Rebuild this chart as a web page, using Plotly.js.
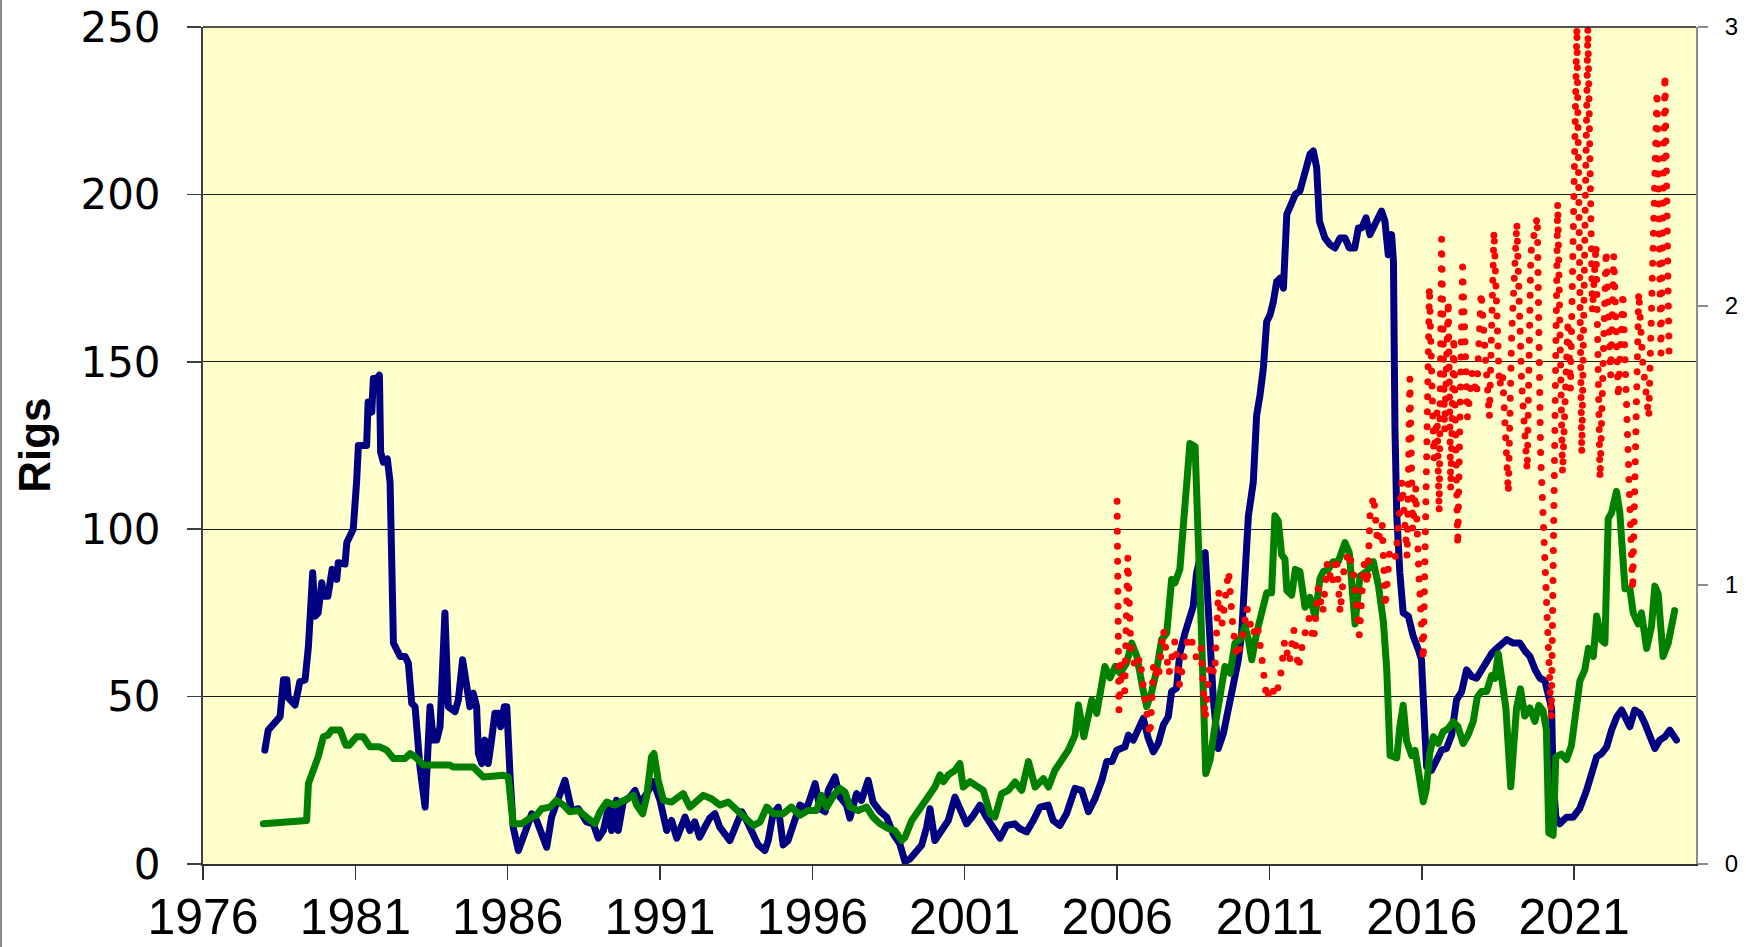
<!DOCTYPE html>
<html>
<head>
<meta charset="utf-8">
<script src="https://cdn.plot.ly/plotly-3.0.1.min.js"></script>
<style>
  html, body { margin: 0; padding: 0; background: #ffffff; }
  #wrap { position: relative; width: 1746px; height: 947px; }
  #edge { position: absolute; left: 0; top: 0; width: 2px; height: 947px; background: #8a8a8a; z-index: 5; }
  #chart { width: 1746px; height: 947px; }
  #chart .scatterlayer path.js-line { stroke-linecap: round; stroke-linejoin: round; }
</style>
</head>
<body>
<div id="wrap"><div id="edge"></div><div id="chart"></div></div>
<script>
// ---------- data ----------
var tickYears = [1976, 1981, 1986, 1991, 1996, 2001, 2006, 2011, 2016, 2021];
var tickLabels = ["1976", "1981", "1986", "1991", "1996", "2001", "2006", "2011", "2016", "2021"];

var navyDates = [1978.03,1978.14,1978.53,1978.64,1978.75,1978.8,1979.02,1979.18,1979.35,1979.46,1979.6,1979.68,1979.78,1979.9,1979.95,1980.1,1980.24,1980.39,1980.44,1980.66,1980.72,1980.93,1981.04,1981.1,1981.37,1981.42,1981.54,1981.59,1981.7,1981.79,1981.83,1981.92,1982.05,1982.14,1982.25,1982.47,1982.63,1982.74,1982.85,1982.96,1983.12,1983.29,1983.45,1983.56,1983.67,1983.78,1983.94,1984.05,1984.27,1984.38,1984.52,1984.65,1984.76,1984.87,1984.98,1985.04,1985.15,1985.25,1985.36,1985.47,1985.58,1985.69,1985.77,1985.89,1985.97,1986.08,1986.18,1986.35,1986.46,1986.57,1986.79,1986.95,1987.28,1987.44,1987.66,1987.88,1988.1,1988.32,1988.59,1988.81,1988.97,1989.14,1989.3,1989.41,1989.57,1989.63,1989.79,1990.01,1990.18,1990.34,1990.56,1990.78,1991.0,1991.22,1991.38,1991.55,1991.82,1991.98,1992.14,1992.3,1992.47,1992.63,1992.8,1992.96,1993.29,1993.45,1993.68,1993.84,1994.06,1994.22,1994.44,1994.55,1994.71,1994.88,1995.04,1995.2,1995.42,1995.59,1995.81,1996.09,1996.25,1996.42,1996.52,1996.74,1996.9,1997.12,1997.23,1997.45,1997.61,1997.83,1997.99,1998.22,1998.44,1998.65,1998.87,1999.04,1999.2,1999.42,1999.59,1999.75,1999.86,2000.02,2000.24,2000.46,2000.68,2000.84,2001.06,2001.28,2001.5,2001.71,2001.93,2002.16,2002.37,2002.64,2002.8,2003.03,2003.25,2003.47,2003.74,2003.9,2004.12,2004.34,2004.62,2004.84,2005.06,2005.28,2005.5,2005.66,2005.83,2005.99,2006.26,2006.37,2006.53,2006.7,2006.86,2007.02,2007.19,2007.35,2007.52,2007.68,2007.79,2007.95,2008.06,2008.23,2008.39,2008.5,2008.61,2008.74,2008.89,2009.0,2009.16,2009.32,2009.49,2009.6,2009.76,2009.87,2009.98,2010.09,2010.2,2010.31,2010.47,2010.58,2010.69,2010.8,2010.91,2011.02,2011.13,2011.24,2011.35,2011.46,2011.57,2011.68,2011.85,2012.0,2012.17,2012.33,2012.44,2012.55,2012.64,2012.82,2012.99,2013.15,2013.32,2013.48,2013.62,2013.8,2013.92,2014.03,2014.17,2014.3,2014.46,2014.68,2014.79,2014.9,2015.01,2015.07,2015.12,2015.18,2015.28,2015.39,2015.56,2015.72,2015.89,2015.99,2016.1,2016.16,2016.32,2016.49,2016.65,2016.81,2016.98,2017.14,2017.31,2017.47,2017.64,2017.8,2017.97,2018.13,2018.3,2018.46,2018.62,2018.79,2019.0,2019.22,2019.39,2019.55,2019.72,2019.88,2020.04,2020.15,2020.26,2020.31,2020.4,2020.53,2020.75,2020.97,2021.19,2021.41,2021.58,2021.74,2021.9,2022.07,2022.23,2022.4,2022.56,2022.72,2022.83,2022.99,2023.16,2023.32,2023.49,2023.65,2023.81,2023.98,2024.14,2024.25,2024.36];
var navyRigs = [34,40,44,55,55,49.6,47.5,54.5,55,65,87,74,75,84,80,80,88,85,90,89.6,96,100,114,125,125,138,135,145,145,146,123,120,121,114,66,62,62,60,48,47,29,17,47,37,37,41,75,47,45.5,49,61,52,47,51,47,33,30,37,30,37,45,45,41,47,47,26,11,4,7,10,15,13,5,14,20,25,16,16.5,12.6,12,7.7,10,16.5,10,19,10,18.5,20,22,18,21,24.6,19,10,13,7.7,14,10,12.6,8,11,13.7,15,11,7,10.6,15.6,13,8,5.7,4,7,15,17,5.7,7,13,17.6,16.5,24,16.5,15.6,22,26,20,17.6,13.7,21,19,25,18.5,15.7,14,9,6,0.7,1.5,4,5.7,11,16.5,7,10,13,20,17,12,14.5,17.6,14,11,7.7,11.5,12,10.6,9.6,13,17,17.6,13,11.5,15,22.6,22,15.6,19.6,25,30.6,30.6,34,35,38.5,37,40,43.5,37.6,33.5,36,41.6,44,51.5,52.5,63,69,75,77,87,92,93,77,49,34.5,39,44,51,55,61,69,89,104,114,134,140,148,162,164,168,174,175,172,194,197,200,201,207,212,213,208,192,187,185,184,187,187,184,184,190,190,193,188,191,195,192,182,188,180,130,104,87,75,74,68,64,61,40,29,28,31,34,34.5,38.5,49,51.5,58,56,55.5,58,61,63,64.4,66,67,66,66,63.6,62,58,55.5,54.7,51.5,46.6,25.6,14,12,14,14,16.7,22,27,32,33,35,40,44,46,43.4,41,46,45,42,38,34.5,37,38,40,38.5,37];

var greenDates = [1977.98,1979.4,1979.46,1979.68,1979.78,1979.95,1980.1,1980.22,1980.5,1980.69,1980.8,1981.04,1981.26,1981.48,1981.8,1982.03,1982.25,1982.63,1982.8,1982.96,1983.23,1984.1,1984.2,1984.87,1985.2,1985.86,1986.02,1986.18,1986.46,1986.73,1986.95,1987.11,1987.39,1987.6,1987.83,1988.04,1988.32,1988.59,1988.86,1989.03,1989.25,1989.52,1989.68,1989.96,1990.13,1990.23,1990.43,1990.56,1990.72,1990.8,1990.94,1991.11,1991.38,1991.6,1991.76,1991.98,1992.2,1992.42,1992.69,1992.96,1993.24,1993.51,1993.73,1994.06,1994.28,1994.5,1994.72,1995.04,1995.31,1995.59,1995.86,1996.14,1996.3,1996.47,1996.74,1996.9,1997.07,1997.23,1997.5,1997.78,1997.99,1998.22,1998.49,1998.7,1998.93,1999.04,1999.26,1999.48,1999.75,2000.02,2000.19,2000.3,2000.46,2000.68,2000.84,2000.95,2001.17,2001.39,2001.61,2001.83,2001.99,2002.21,2002.43,2002.65,2002.87,2003.09,2003.31,2003.58,2003.75,2003.96,2004.18,2004.4,2004.62,2004.73,2004.91,2005.06,2005.17,2005.33,2005.5,2005.6,2005.77,2005.94,2006.1,2006.31,2006.48,2006.65,2006.81,2006.97,2007.14,2007.3,2007.46,2007.63,2007.79,2007.9,2008.06,2008.23,2008.39,2008.56,2008.66,2008.77,2008.91,2009.05,2009.21,2009.38,2009.54,2009.71,2009.87,2010.03,2010.2,2010.31,2010.42,2010.58,2010.75,2010.91,2011.07,2011.18,2011.29,2011.4,2011.51,2011.57,2011.73,2011.85,2012.0,2012.17,2012.33,2012.5,2012.66,2012.77,2012.93,2013.09,2013.26,2013.48,2013.62,2013.81,2013.97,2014.19,2014.41,2014.58,2014.74,2014.85,2014.96,2015.18,2015.28,2015.39,2015.5,2015.67,2015.78,2015.94,2016.05,2016.15,2016.26,2016.38,2016.54,2016.7,2016.87,2017.03,2017.19,2017.36,2017.52,2017.69,2017.82,2017.96,2018.13,2018.29,2018.4,2018.51,2018.62,2018.76,2018.92,2019.0,2019.11,2019.24,2019.38,2019.55,2019.71,2019.84,2019.98,2020.09,2020.17,2020.31,2020.4,2020.58,2020.75,2020.91,2021.05,2021.19,2021.35,2021.47,2021.63,2021.74,2021.9,2022.01,2022.12,2022.23,2022.39,2022.5,2022.67,2022.83,2022.94,2023.1,2023.21,2023.38,2023.54,2023.65,2023.76,2023.92,2024.09,2024.25,2024.3];
var greenRigs = [12,13,24,29,32,38,38.5,40,40,35.5,35.5,38,38,35,35,34,31.5,31.5,33,32,29.6,29.6,29,29,26,26.5,26,12,12,13.7,14.6,16.5,17,19,17.6,15.6,16,14,12,15.6,18.5,17.6,18.5,20,20.5,17.6,15,20,32,33,25,19,18.5,20,21,17,18.5,20.5,19.5,17.6,18.5,16,14.6,11.5,12.5,17,15,15,17,14.6,16,16,20.5,17,21,22.6,21.5,17,16,17,14,12,10.6,10,7,8,13,16,19,23,26.6,24.6,26.6,28,30,23,24.6,23,22,15,14,21,22,24.5,22,30.6,23,25.5,23,28,31,34,38.5,47.5,38,44,49,45,53,59,55.6,59,57,60,66,62,54,47,51.5,58,67,69,85,84,88,108.7,125.6,124.7,103.7,69,27,31,41,51,59,57,66,67,71,67,61,69,75,81,81,104,102.4,92.4,91,81.7,80.3,88,87.4,76.7,79.6,73.9,85.3,87.4,88,90.3,90.3,96,93,71.7,86,87.4,90.3,83,72.4,58,32.4,31.7,41,47.4,36.7,32.4,33.9,24,18.6,22.4,33,38,36,39.5,40.5,42.5,41,36,38.5,42.6,49.8,51.5,51.5,56.3,55.5,62.8,55.5,46.6,23.1,35.3,46.6,52.3,44.2,46.6,42.6,47.4,45.8,40,9.3,8.6,32,32.8,31.2,35.3,43.4,54.7,58,64.4,62,74.1,66.8,66,103.2,104.9,111.3,104.9,82.2,82.2,75,71.7,75,64.4,71,83,80.6,62,66,75.7,75.7];

var redDates = [2006.0,2006.06,2006.15,2006.25,2006.35,2006.45,2006.6,2006.75,2006.9,2007.08,2007.2,2007.35,2007.52,2007.7,2007.9,2008.05,2008.25,2008.4,2008.6,2008.75,2008.89,2009.05,2009.2,2009.33,2009.45,2009.66,2009.8,2009.93,2010.1,2010.26,2010.45,2010.6,2010.75,2010.91,2011.05,2011.2,2011.35,2011.5,2011.65,2011.8,2011.95,2012.1,2012.3,2012.45,2012.6,2012.75,2012.9,2013.05,2013.2,2013.32,2013.45,2013.6,2013.75,2013.95,2014.1,2014.22,2014.3,2014.42,2014.55,2014.7,2014.8,2014.95,2015.15,2015.35,2015.52,2015.61,2015.7,2015.8,2015.9,2016.05,2016.25,2016.4,2016.5,2016.57,2016.65,2016.75,2016.87,2016.95,2017.05,2017.18,2017.34,2017.42,2017.5,2017.65,2017.8,2017.95,2018.22,2018.37,2018.55,2018.65,2018.84,2018.95,2019.12,2019.28,2019.46,2019.58,2019.79,2019.9,2020.25,2020.46,2020.62,2020.8,2020.88,2021.09,2021.25,2021.45,2021.6,2021.72,2021.85,2022.05,2022.2,2022.3,2022.45,2022.6,2022.92,2023.12,2023.25,2023.45,2023.72,2023.85,2023.98,2024.12];
var redRatio = [1.30,0.55,0.72,0.62,1.10,0.78,0.70,0.74,0.60,0.46,0.72,0.66,0.84,0.68,0.80,0.64,0.78,0.82,0.74,0.78,0.52,0.72,0.68,0.98,0.86,1.05,0.85,0.74,0.80,0.92,0.82,0.86,0.74,0.59,0.64,0.60,0.66,0.80,0.72,0.84,0.70,0.80,0.88,0.80,0.99,0.90,1.08,1.00,1.10,0.90,1.06,1.12,1.05,0.82,1.08,1.00,1.25,1.32,1.15,1.22,0.92,1.13,1.10,1.37,1.10,1.74,1.20,1.35,1.05,0.73,2.07,1.45,1.62,1.26,2.24,1.55,2.02,1.34,1.89,1.14,2.14,1.77,1.60,1.76,1.68,2.05,1.60,2.27,1.71,1.76,1.33,1.90,2.30,1.72,1.41,2.19,2.32,1.47,0.52,2.37,1.40,1.95,1.70,3.00,1.47,3.00,1.98,2.22,1.38,2.20,1.75,2.18,1.67,2.05,0.98,2.05,1.80,1.60,2.77,1.83,2.83,1.80];

// ---------- traces ----------
var traces = [
  { x: navyDates, y: navyRigs, type: 'scatter', mode: 'lines', yaxis: 'y',
    line: { color: '#000080', width: 7 }, hoverinfo: 'skip' },
  { x: greenDates, y: greenRigs, type: 'scatter', mode: 'lines', yaxis: 'y',
    line: { color: '#008000', width: 7 }, hoverinfo: 'skip' },
  { x: redDates, y: redRatio, type: 'scatter', mode: 'lines', yaxis: 'y2',
    line: { color: '#ff0000', width: 7, dash: '0px,15px' }, hoverinfo: 'skip' }
];

var layout = {
  width: 1746, height: 947,
  margin: { l: 203, r: 50, t: 27, b: 83 },
  paper_bgcolor: '#ffffff',
  plot_bgcolor: '#ffffcc',
  showlegend: false,
  xaxis: {
    range: [1976, 2025],
    tickmode: 'array', tickvals: tickYears, ticktext: tickLabels,
    ticks: 'outside', ticklen: 14, tickwidth: 1.5, tickcolor: '#333333',
    showline: true, linecolor: '#333333', linewidth: 2,
    showgrid: false, zeroline: false,
    tickfont: { family: 'Liberation Sans Narrow, Liberation Sans, Arial', size: 50, color: '#000000' },
    ticklabelstandoff: -6
  },
  yaxis: {
    range: [0, 250], tickmode: 'array', tickvals: [0, 50, 100, 150, 200, 250],
    ticks: 'outside', ticklen: 14, tickwidth: 1.5, tickcolor: '#404040',
    showline: true, linecolor: '#404040', linewidth: 2,
    showgrid: true, gridcolor: '#1a1a1a', gridwidth: 1, zeroline: false,
    tickfont: { family: 'DejaVu Sans, Liberation Sans, Arial', size: 42, color: '#000000' },
    ticklabelstandoff: 18
  },
  yaxis2: {
    overlaying: 'y', side: 'right', anchor: 'x',
    range: [0, 3], tickmode: 'array', tickvals: [0, 1, 2, 3],
    ticks: 'outside', ticklen: 10, tickwidth: 1.5, tickcolor: '#8c8c8c',
    showline: true, linecolor: '#8c8c8c', linewidth: 2,
    showgrid: false, zeroline: false,
    tickfont: { family: 'Liberation Sans, Arial', size: 24, color: '#000000' },
    ticklabelstandoff: 12
  },
  annotations: [{
    text: '<b>Rigs</b>', xref: 'paper', yref: 'paper', x: -0.113, y: 0.5,
    xanchor: 'center', yanchor: 'middle', textangle: -90, showarrow: false,
    font: { family: 'Liberation Sans, Arial', size: 44, color: '#000000' }
  }],
  shapes: [{
    type: 'line', xref: 'paper', yref: 'paper', x0: 0, x1: 1, y0: 1, y1: 1,
    line: { color: '#1a1a1a', width: 1.5 }
  }]
};

Plotly.newPlot('chart', traces, layout, { staticPlot: true, displayModeBar: false });
</script>
</body>
</html>
